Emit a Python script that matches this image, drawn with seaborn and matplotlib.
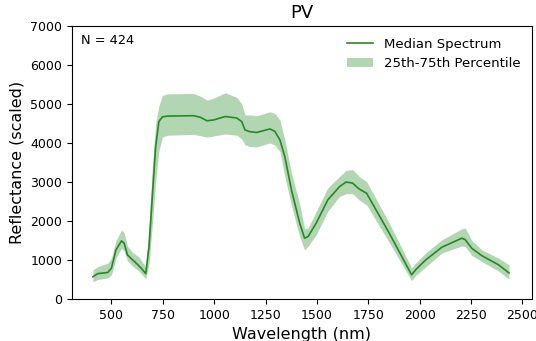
import numpy as np
import pandas as pd
import matplotlib
matplotlib.use("Agg")
import matplotlib.pyplot as plt
import seaborn as sns

# Median PV reflectance spectrum with interquartile range
wavelength = [410, 433, 482, 500, 522, 549, 562, 578, 602, 634, 650, 667, 683,
              699, 715, 731, 748, 772, 900, 933, 965, 997, 1054, 1110, 1134,
              1150, 1174, 1207, 1271, 1295, 1320, 1344, 1376, 1416, 1440, 1457,
              1497, 1553, 1610, 1642, 1674, 1706, 1742, 1852, 1961, 1981, 2029,
              2109, 2206, 2222, 2254, 2303, 2383, 2435]
median = [570, 650, 680, 790, 1260, 1490, 1430, 1130, 1010, 850, 760, 650, 1350,
          2630, 3900, 4550, 4670, 4690, 4700, 4660, 4570, 4590, 4680, 4640, 4550,
          4335, 4290, 4270, 4360, 4300, 4080, 3650, 2800, 1950, 1560, 1600,
          1950, 2540, 2880, 3000, 2970, 2820, 2710, 1690, 620, 750, 1000,
          1330, 1560, 1520, 1300, 1110, 880, 670]
q25 = [440, 500, 540, 620, 1050, 1300, 1230, 980, 850, 710, 620, 520, 900,
       1900, 3000, 3800, 4150, 4200, 4220, 4190, 4150, 4180, 4230, 4200, 4100,
       3950, 3910, 3900, 4000, 3950, 3780, 3140, 2400, 1600, 1260, 1350,
       1650, 2250, 2630, 2700, 2700, 2540, 2415, 1450, 470, 600, 820,
       1180, 1360, 1340, 1120, 960, 720, 510]
q75 = [750, 830, 920, 1050, 1500, 1770, 1700, 1350, 1200, 1075, 950, 820, 1900,
       3400, 4500, 4950, 5220, 5260, 5270, 5200, 5100, 5150, 5290, 5170, 5000,
       4720, 4720, 4700, 4800, 4760, 4590, 4080, 3230, 2450, 1800, 1820,
       2250, 2850, 3140, 3300, 3320, 3140, 3010, 1950, 800, 920, 1180,
       1520, 1800, 1820, 1500, 1260, 1050, 880]
n_samples = 424

df = pd.DataFrame({"Wavelength": wavelength, "Median": median,
                   "Q25": q25, "Q75": q75})

fig = plt.figure(figsize=(5.36, 3.41), dpi=100)
ax = fig.add_axes([72 / 536, 1 - 299 / 341, (532 - 72) / 536, (299 - 26) / 341])

ax.fill_between(df["Wavelength"], df["Q25"], df["Q75"], color="forestgreen",
                alpha=0.35, linewidth=0, label="25th-75th Percentile")
sns.lineplot(data=df, x="Wavelength", y="Median", color="forestgreen",
             linewidth=1.2, label="Median Spectrum", ax=ax)

ax.set_ylim(0, 7000)
ax.set_xlim(308, 2547)
ax.set_xticks([500, 750, 1000, 1250, 1500, 1750, 2000, 2250, 2500])
ax.set_yticks(np.arange(0, 7001, 1000))
ax.tick_params(labelsize=9)
ax.set_xlabel("Wavelength (nm)", fontsize=11.5)
ax.set_ylabel("Reflectance (scaled)", fontsize=11.5)
ax.set_title("PV", fontsize=13)
ax.text(0.02, 0.97, f"N = {n_samples}", transform=ax.transAxes,
        ha="left", va="top", fontsize=9.3)

handles, labels = ax.get_legend_handles_labels()
order = [labels.index("Median Spectrum"), labels.index("25th-75th Percentile")]
ax.legend([handles[i] for i in order], [labels[i] for i in order],
          loc="upper right", frameon=False, fontsize=9.5)

fig.savefig("out.png", dpi=100)
